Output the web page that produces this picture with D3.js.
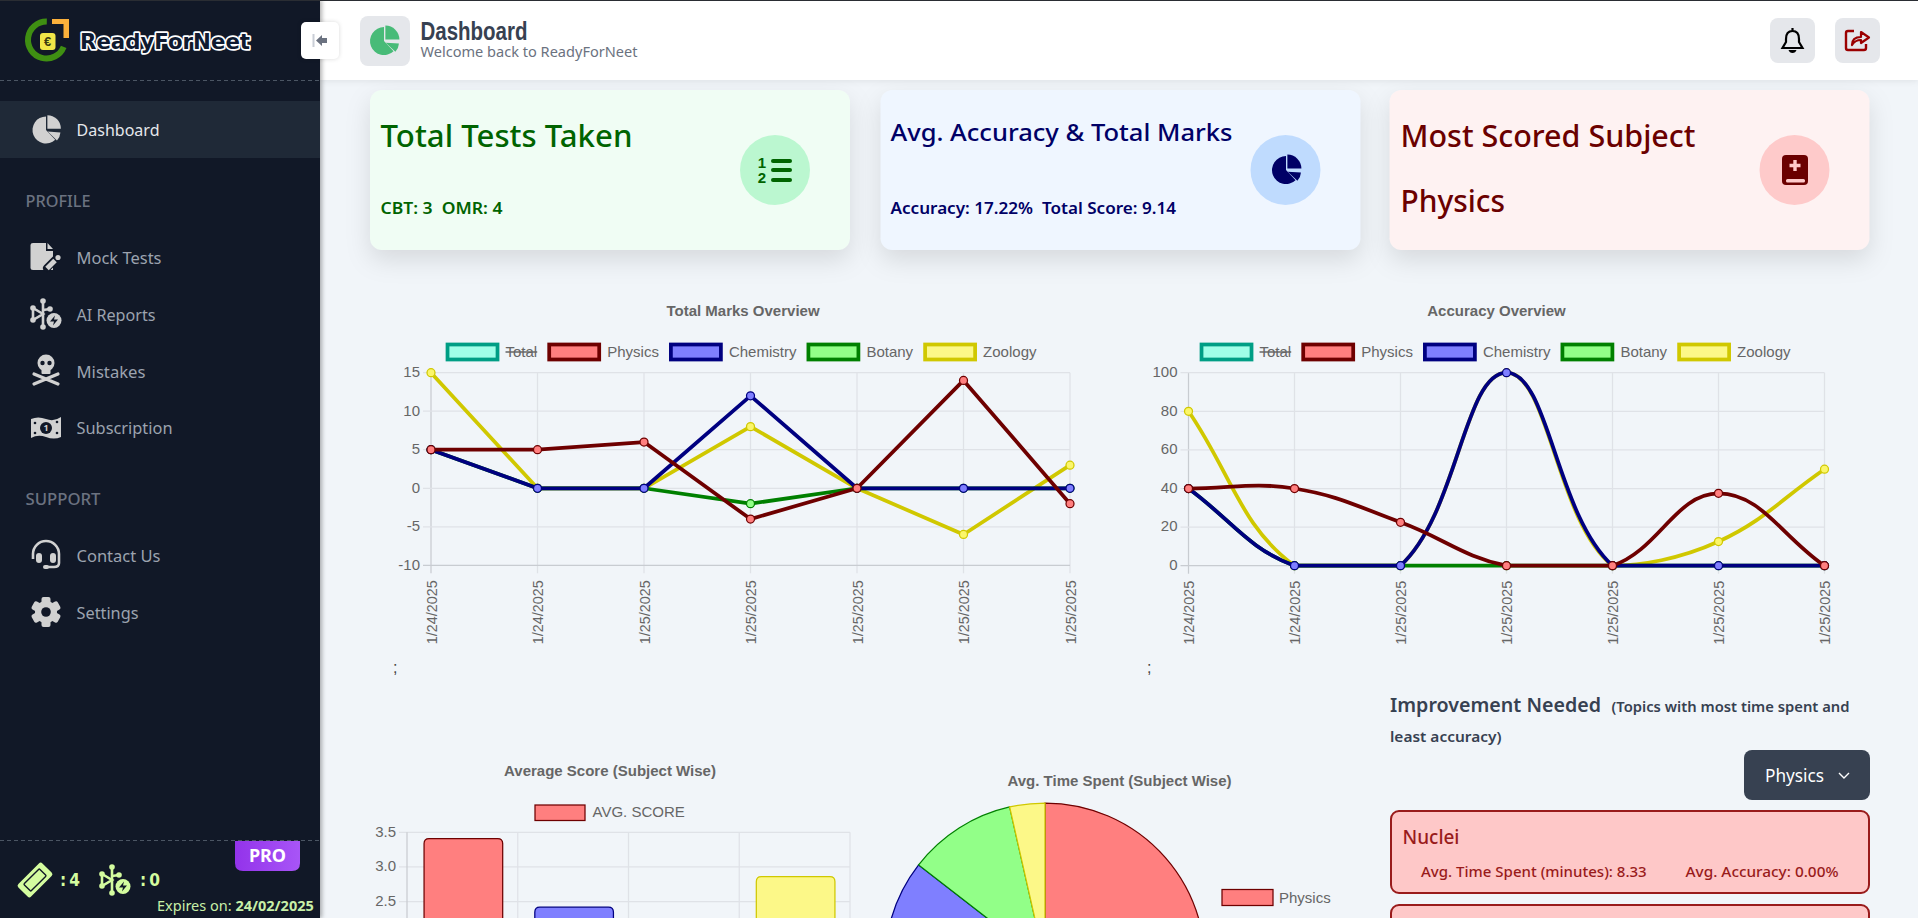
<!DOCTYPE html>
<html>
<head>
<meta charset="utf-8">
<title>Dashboard</title>
<script src="https://cdn.jsdelivr.net/npm/d3@7"></script>
<style>
  html, body { margin: 0; padding: 0; overflow: hidden; background: #f1f5f9; }
  svg { display: block; }
</style>
</head>
<body>
<script>
// ---- chart data ----
var dateLabels = ["1/24/2025", "1/24/2025", "1/25/2025", "1/25/2025", "1/25/2025", "1/25/2025", "1/25/2025"];
var legendNames = ["Total", "Physics", "Chemistry", "Botany", "Zoology"];
var subjects = ["Physics", "Chemistry", "Botany", "Zoology"];

var marksPhysics = [5, 5, 6, -4, 0, 14, -2];
var marksChemistry = [5, 0, 0, 12, 0, 0, 0];
var marksBotany = [5, 0, 0, -2, 0, 0, 0];
var marksZoology = [15, 0, 0, 8, 0, -6, 3];
var marksTicks = [-10, -5, 0, 5, 10, 15];

var accuracyPhysics = [40, 40, 22.5, 0, 0, 37.5, 0];
var accuracyChemistry = [40, 0, 0, 100, 0, 0, 0];
var accuracyBotany = [40, 0, 0, 0, 0, 0, 0];
var accuracyZoology = [80, 0, 0, 100, 0, 12.5, 50];
var accuracyTicks = [0, 20, 40, 60, 80, 100];

// the lower part of these two charts runs off the page
var avgScore = [3.41, 2.42, 0.43, 2.86];
var avgScoreTicks = [2.5, 3, 3.5];
var avgTime = [5.2, 3.0, 1.05, 0.34];
var pieLegendNames = ["Physics"];

var menuProfile = ["Mock Tests", "AI Reports", "Mistakes", "Subscription"];
var menuSupport = ["Contact Us", "Settings"];

// ---- look ----
var strokeOf = { Total: "#009e85", Physics: "#6e0000", Chemistry: "#000080", Botany: "#008000", Zoology: "#d0c800" };
var fillOf = { Total: "#a0ffe8", Physics: "#ff7f7f", Chemistry: "#7f7fff", Botany: "#92ff88", Zoology: "#fcf888" };
var chartFont = "'Liberation Sans', Arial, sans-serif";
var uiFont = "'Noto Sans', Lato, sans-serif";
var sideFont = "'Noto Sans', sans-serif";

var width = 1918, height = 918;

var svg = d3.select("body").append("svg")
    .attr("width", width)
    .attr("height", height);

svg.append("rect").attr("width", width).attr("height", height).attr("fill", "#f1f5f9");

function label(parent, x, y, str, size, color, opts) {
  opts = opts || {};
  var t = parent.append("text")
      .attr("x", x)
      .attr("y", y)
      .attr("dy", "0.35em")
      .attr("text-anchor", opts.anchor || "start")
      .style("font-family", opts.font || uiFont)
      .style("font-size", size + "px")
      .style("font-weight", opts.weight || 400)
      .attr("fill", color)
      .text(str);
  // the site font is not installed, so hold the text to the width it has there
  if (opts.fit) t.attr("textLength", opts.fit).attr("lengthAdjust", "spacingAndGlyphs");
  return t;
}

// ---- icons, all centred on 0,0 ----
function pieIcon(p, cx, cy, r, color) {
  var g = p.append("g").attr("transform", `translate(${cx},${cy})`);
  var arc = d3.arc();
  g.append("path").attr("fill", color)
    .attr("d", arc({ innerRadius: 0, outerRadius: r, startAngle: Math.PI * 0.76, endAngle: Math.PI * 2 }));
  g.append("path").attr("fill", color).attr("transform", `translate(${r * 0.1},${-r * 0.1})`)
    .attr("d", arc({ innerRadius: 0, outerRadius: r, startAngle: 0, endAngle: Math.PI * 0.5 }));
  g.append("path").attr("fill", color).attr("transform", `translate(${r * 0.12},${r * 0.12})`)
    .attr("d", arc({ innerRadius: 0, outerRadius: r * 0.95, startAngle: Math.PI * 0.52, endAngle: Math.PI * 0.74 }));
  return g;
}

function filePenIcon(p, cx, cy, color, bg) {
  var g = p.append("g").attr("transform", `translate(${cx},${cy})`);
  g.append("path").attr("fill", color).attr("d", "M-13,-14 H0 V-6 H7 V13 H-13 Q-15.5,13 -15.5,11 V-12 Q-15.5,-14 -13,-14 Z");
  g.append("path").attr("fill", color).attr("d", "M1.5,-14 L7,-8 H1.5 Z");
  g.append("path").attr("stroke", bg).attr("stroke-width", 8).attr("stroke-linecap", "round").attr("d", "M1,11 L12,0");
  g.append("path").attr("stroke", color).attr("stroke-width", 5).attr("d", "M1,11.5 L9,3.5");
  g.append("circle").attr("cx", 12).attr("cy", 0.5).attr("r", 2.6).attr("fill", color);
}

function aiIcon(p, cx, cy, color, bg) {
  var g = p.append("g").attr("transform", `translate(${cx},${cy})`);
  g.selectAll("path.wire").data(["M-3,-13 V13", "M-13,-6 L-3,0 L-13,6 Z", "M-3,-4 L4,-5"])
    .enter().append("path").attr("class", "wire").attr("fill", "none").attr("stroke", color).attr("stroke-width", 2.6).attr("d", d => d);
  [[-3, -13], [-3, 13], [-13, -6], [-13, 6], [4, -5]].forEach(function(c) {
    g.append("circle").attr("cx", c[0]).attr("cy", c[1]).attr("r", 2.8).attr("fill", color);
  });
  g.append("circle").attr("cx", 8).attr("cy", 6.5).attr("r", 7.5).attr("fill", color);
  g.append("path").attr("fill", bg).attr("d", "M9,1.5 L4,7.5 H8 L7,11.5 L12,5.5 H8 Z");
  return g;
}

function skullIcon(p, cx, cy, color, bg) {
  var g = p.append("g").attr("transform", `translate(${cx},${cy})`);
  g.append("circle").attr("cy", -8).attr("r", 8.5).attr("fill", color);
  g.append("rect").attr("x", -4.5).attr("y", -3).attr("width", 9).attr("height", 6).attr("rx", 1).attr("fill", color);
  g.append("circle").attr("cx", -3.5).attr("cy", -8).attr("r", 2.2).attr("fill", bg);
  g.append("circle").attr("cx", 3.5).attr("cy", -8).attr("r", 2.2).attr("fill", bg);
  g.append("path").attr("stroke", color).attr("stroke-width", 3.2).attr("stroke-linecap", "round")
    .attr("d", "M-12,3 L12,13 M12,3 L-12,13");
}

function moneyIcon(p, cx, cy, color, bg) {
  var g = p.append("g").attr("transform", `translate(${cx},${cy})`);
  g.append("path").attr("fill", color).attr("d", "M-15,-9 Q-8,-12 0,-9 Q8,-6 15,-11 V9 Q8,12 0,9 Q-8,6 -15,10 Z");
  g.append("circle").attr("r", 6).attr("fill", bg);
  label(g, 0, 0, "1", 9, color, { anchor: "middle", weight: 700, font: sideFont });
  [[-11, -5], [11, -6], [-11, 5], [11, 5]].forEach(function(c) {
    g.append("circle").attr("cx", c[0]).attr("cy", c[1]).attr("r", 1.3).attr("fill", bg);
  });
}

function headsetIcon(p, cx, cy, color) {
  var g = p.append("g").attr("transform", `translate(${cx},${cy})`);
  g.append("path").attr("fill", "none").attr("stroke", color).attr("stroke-width", 2.6)
    .attr("d", "M-13,4 V-1 A13,13 0 0 1 13,-1 V8 Q13,12 8,12 H0");
  g.append("rect").attr("x", -10).attr("y", -2).attr("width", 6).attr("height", 10).attr("rx", 3).attr("fill", color);
  g.append("rect").attr("x", 4).attr("y", -2).attr("width", 6).attr("height", 10).attr("rx", 3).attr("fill", color);
  g.append("rect").attr("x", -3).attr("y", 10).attr("width", 6).attr("height", 4).attr("rx", 2).attr("fill", color);
}

function gearIcon(p, cx, cy, color, bg) {
  var g = p.append("g").attr("transform", `translate(${cx},${cy})`);
  d3.range(3).forEach(function(i) {
    g.append("rect").attr("x", -4.5).attr("y", -15).attr("width", 9).attr("height", 30).attr("rx", 2)
      .attr("fill", color).attr("transform", `rotate(${i * 60})`);
  });
  g.append("circle").attr("r", 11).attr("fill", color);
  g.append("circle").attr("r", 4.8).attr("fill", bg);
}

function ticketIcon(p, cx, cy, color, bg) {
  var g = p.append("g").attr("transform", `translate(${cx},${cy}) rotate(-45)`);
  g.append("rect").attr("x", -17).attr("y", -9).attr("width", 34).attr("height", 18).attr("rx", 2.5).attr("fill", color);
  g.append("rect").attr("x", -11).attr("y", -5).attr("width", 22).attr("height", 10).attr("rx", 1).attr("fill", color)
    .attr("stroke", bg).attr("stroke-width", 1.4);
}

// ---- main content cards ----
var cardLayer = svg.append("g");

function card(x, bg, circleBg) {
  cardLayer.append("rect")
      .attr("x", x).attr("y", 90).attr("width", 480).attr("height", 160).attr("rx", 12)
      .attr("fill", bg)
      .style("filter", "drop-shadow(0 10px 12px rgba(0,0,0,0.11))");
  cardLayer.append("circle").attr("cx", x + 405).attr("cy", 170).attr("r", 35).attr("fill", circleBg);
}
card(370, "#f0fdf4", "#bbf7d0");
card(880.5, "#eff6ff", "#bfdbfe");
card(1389.5, "#fef2f2", "#fecaca");

var greenInk = "#006400", navyInk = "#000066", redInk = "#6b0000";
label(cardLayer, 380.5, 136, "Total Tests Taken", 30, greenInk, { weight: 500, fit: 252 });
label(cardLayer, 380.5, 208, "CBT: 3\u00a0\u00a0OMR: 4", 16, greenInk, { weight: 600, fit: 122 });
label(cardLayer, 890.5, 133, "Avg. Accuracy & Total Marks", 24, navyInk, { weight: 500, fit: 342 });
label(cardLayer, 890.5, 208, "Accuracy: 17.22%\u00a0\u00a0Total Score: 9.14", 16, navyInk, { weight: 600, fit: 285.5 });
label(cardLayer, 1400.5, 136, "Most Scored Subject", 30, redInk, { weight: 500, fit: 295 });
label(cardLayer, 1400.5, 201, "Physics", 30, redInk, { weight: 500, fit: 104.5 });

// list icon
var listIcon = cardLayer.append("g").attr("transform", "translate(775,170)");
label(listIcon, -13, -7, "1", 15, greenInk, { anchor: "middle", weight: 900, font: chartFont });
label(listIcon, -13, 8, "2", 15, greenInk, { anchor: "middle", weight: 900, font: chartFont });
[-9, 0, 10].forEach(function(y) {
  listIcon.append("rect").attr("x", -4).attr("y", y - 2).attr("width", 21).attr("height", 4).attr("rx", 2).attr("fill", greenInk);
});
pieIcon(cardLayer, 1286, 170, 14, navyInk);
// book icon
var bookIcon = cardLayer.append("g").attr("transform", "translate(1795,170)");
bookIcon.append("rect").attr("x", -13).attr("y", -15).attr("width", 26).attr("height", 30).attr("rx", 4).attr("fill", redInk);
bookIcon.append("rect").attr("x", -9).attr("y", 9).attr("width", 19).attr("height", 3.5).attr("rx", 1.5).attr("fill", "#fecaca");
bookIcon.append("path").attr("fill", "none").attr("stroke", "#fecaca").attr("stroke-width", 3.4).attr("d", "M0,-10 V1 M-5.5,-4.5 H5.5");

// ---- line charts ----
function lineChart(o) {
  var g = svg.append("g");
  var x = d3.scalePoint().domain(d3.range(dateLabels.length)).range([o.left, o.right]);
  var y = d3.scaleLinear().domain(o.domain).range([o.bottom, o.top]);

  label(g, o.titleX, 310.5, o.title, 15, "#666", { anchor: "middle", weight: 700, font: chartFont });

  // legend is laid out from the measured text, chart.js style
  var legend = g.append("g");
  var cursor = 0;
  legendNames.forEach(function(name) {
    legend.append("rect").attr("x", cursor).attr("y", 344.5).attr("width", 50).attr("height", 15)
        .attr("fill", fillOf[name]).attr("stroke", strokeOf[name]).attr("stroke-width", 3.75);
    var t = label(legend, cursor + 58, 352, name, 15, "#666", { font: chartFont });
    var w = t.node().getComputedTextLength();
    if (name == "Total") {
      legend.append("line").attr("x1", cursor + 58).attr("x2", cursor + 58 + w)
          .attr("y1", 352).attr("y2", 352).attr("stroke", "#666").attr("stroke-width", 1.6);
    }
    cursor += 58 + w + 12;
  });
  legend.attr("transform", `translate(${o.legendX - (cursor - 12) / 2},0)`);

  // grid
  g.append("g").selectAll("line").data(d3.range(dateLabels.length)).enter().append("line")
      .attr("x1", d => x(d)).attr("x2", d => x(d)).attr("y1", o.top).attr("y2", o.bottom + 8)
      .attr("stroke", d => d == 0 ? "#c8ccd1" : "#dfe2e7").attr("stroke-width", 1.25);
  g.append("g").selectAll("line").data(o.ticks).enter().append("line")
      .attr("x1", o.left - 8).attr("x2", o.right).attr("y1", d => y(d)).attr("y2", d => y(d))
      .attr("stroke", d => d == o.domain[0] ? "#c8ccd1" : "#dfe2e7").attr("stroke-width", 1.25);

  // axes, only the labels are kept
  var axisY = g.append("g").attr("transform", `translate(${o.left - 11},-1)`)
      .call(d3.axisLeft(y).tickValues(o.ticks).tickFormat(d => String(d)).tickSize(0).tickPadding(0));
  axisY.select(".domain").remove();
  axisY.selectAll("text").style("font", `15px ${chartFont}`).attr("fill", "#666");

  var axisX = g.append("g").attr("transform", `translate(0,${o.bottom + 15})`)
      .call(d3.axisBottom(x).tickFormat(d => dateLabels[d]).tickSize(0).tickPadding(0));
  axisX.select(".domain").remove();
  axisX.selectAll("text")
      .style("font", `14.4px ${chartFont}`)
      .attr("fill", "#666")
      .attr("text-anchor", "end")
      .attr("dy", 0)
      .attr("y", 0)
      .attr("transform", "rotate(-90) translate(0,5)");

  // first dataset sits on top, so paint backwards
  var line = d3.line().x((d, i) => x(i)).y(d => y(d));
  subjects.slice().reverse().forEach(function(name, k) {
    var values = o.series[subjects.length - 1 - k];
    var d = o.tension ? chartSpline(values.map((v, i) => [x(i), y(v)]), o.tension, o) : line(values);
    g.append("path").attr("d", d).attr("fill", "none")
        .attr("stroke", strokeOf[name]).attr("stroke-width", 3.75).attr("stroke-linejoin", "round");
    g.append("g").selectAll("circle").data(values).enter().append("circle")
        .attr("cx", (v, i) => x(i)).attr("cy", v => y(v)).attr("r", 4)
        .attr("fill", fillOf[name] == "#fcf888" ? "#fbf66a" : fillOf[name])
        .attr("stroke", strokeOf[name]).attr("stroke-width", 1.25);
  });

  label(g, o.semiX, 667, ";", 16, "#444", { font: chartFont });
}

// same control points chart.js uses for a tensioned line
function chartSpline(pts, t, o) {
  var p = d3.path();
  var clampX = v => Math.max(o.left, Math.min(o.right, v));
  var clampY = v => Math.max(o.top, Math.min(o.bottom, v));
  var ctrl = pts.map(function(cur, i) {
    var prev = pts[i - 1] || cur, next = pts[i + 1] || cur;
    var d01 = Math.hypot(cur[0] - prev[0], cur[1] - prev[1]);
    var d12 = Math.hypot(next[0] - cur[0], next[1] - cur[1]);
    var s = d01 + d12 || 1;
    var fa = t * d01 / s, fb = t * d12 / s;
    return {
      inX: clampX(cur[0] - fa * (next[0] - prev[0])), inY: clampY(cur[1] - fa * (next[1] - prev[1])),
      outX: clampX(cur[0] + fb * (next[0] - prev[0])), outY: clampY(cur[1] + fb * (next[1] - prev[1]))
    };
  });
  p.moveTo(pts[0][0], pts[0][1]);
  for (var i = 1; i < pts.length; i++) {
    p.bezierCurveTo(ctrl[i - 1].outX, ctrl[i - 1].outY, ctrl[i].inX, ctrl[i].inY, pts[i][0], pts[i][1]);
  }
  return p.toString();
}

lineChart({
  id: 1, title: "Total Marks Overview", titleX: 743, legendX: 742, semiX: 393,
  left: 431, right: 1070, top: 372.7, bottom: 565.3,
  domain: [-10, 15], ticks: marksTicks, tension: 0,
  series: [marksPhysics, marksChemistry, marksBotany, marksZoology]
});
lineChart({
  id: 2, title: "Accuracy Overview", titleX: 1496.5, legendX: 1496, semiX: 1147,
  left: 1188.5, right: 1824.5, top: 372.7, bottom: 565.7,
  domain: [0, 100], ticks: accuracyTicks, tension: 0.4,
  series: [accuracyPhysics, accuracyChemistry, accuracyBotany, accuracyZoology]
});

// ---- bar chart ----
var barG = svg.append("g");
var barX = d3.scaleBand().domain(subjects).range([407, 850]);
var barY = d3.scaleLinear().domain([0, 3.5]).range([1075, 832.3]);

label(barG, 610, 771, "Average Score (Subject Wise)", 15, "#666", { anchor: "middle", weight: 700, font: chartFont });
barG.append("rect").attr("x", 535).attr("y", 805).attr("width", 50).attr("height", 15.5)
    .attr("fill", fillOf.Physics).attr("stroke", strokeOf.Physics).attr("stroke-width", 1.25);
label(barG, 592.5, 812, "AVG. SCORE", 15, "#666", { font: chartFont });

barG.append("g").selectAll("line").data(avgScoreTicks).enter().append("line")
    .attr("x1", 399).attr("x2", 850).attr("y1", d => barY(d)).attr("y2", d => barY(d))
    .attr("stroke", "#dfe2e7").attr("stroke-width", 1.25);
barG.append("g").selectAll("line").data(d3.range(subjects.length + 1)).enter().append("line")
    .attr("x1", d => 407 + d * barX.bandwidth()).attr("x2", d => 407 + d * barX.bandwidth())
    .attr("y1", 832.3).attr("y2", 1083)
    .attr("stroke", d => d == 0 ? "#c8ccd1" : "#dfe2e7").attr("stroke-width", 1.25);

var barAxis = barG.append("g").attr("transform", "translate(396,-1)")
    .call(d3.axisLeft(barY).tickValues(avgScoreTicks).tickFormat(d3.format(".1f")).tickSize(0).tickPadding(0));
barAxis.select(".domain").remove();
barAxis.selectAll("text").style("font", `15px ${chartFont}`).attr("fill", "#666");

function barPath(name, v) {
  var w = barX.bandwidth() * 0.71, x0 = barX(name) + (barX.bandwidth() - w) / 2 + 1, y0 = barY(v), r = 5;
  var p = d3.path();
  p.moveTo(x0, barY(0));
  p.lineTo(x0, y0 + r);
  p.quadraticCurveTo(x0, y0, x0 + r, y0);
  p.lineTo(x0 + w - r, y0);
  p.quadraticCurveTo(x0 + w, y0, x0 + w, y0 + r);
  p.lineTo(x0 + w, barY(0));
  return p.toString();
}
barG.append("g").selectAll("path").data(subjects).enter().append("path")
    .attr("d", (d, i) => barPath(d, avgScore[i]))
    .attr("fill", d => fillOf[d])
    .attr("stroke", d => strokeOf[d])
    .attr("stroke-width", 1.25);

// ---- pie chart ----
var pieG = svg.append("g");
label(pieG, 1119.5, 781, "Avg. Time Spent (Subject Wise)", 15, "#666", { anchor: "middle", weight: 700, font: chartFont });
var pieSlices = d3.pie().sort(null)(avgTime);
var pieArc = d3.arc().innerRadius(0).outerRadius(160);
pieG.append("g").attr("transform", "translate(1045,963)")
  .selectAll("path").data(pieSlices).enter().append("path")
    .attr("d", pieArc)
    .attr("fill", (d, i) => fillOf[subjects[i]])
    .attr("stroke", (d, i) => strokeOf[subjects[i]])
    .attr("stroke-width", 1.25);
var pieLegend = pieG.append("g").selectAll("g").data(pieLegendNames).enter().append("g")
    .attr("transform", (d, i) => `translate(1222,${889.5 + i * 30})`);
pieLegend.append("rect").attr("width", 51).attr("height", 16)
    .attr("fill", d => fillOf[d]).attr("stroke", d => strokeOf[d]).attr("stroke-width", 1.25);
pieLegend.append("text").attr("x", 57).attr("y", 8).attr("dy", "0.35em")
    .style("font", `15px ${chartFont}`).attr("fill", "#666").text(d => d);

// ---- improvement panel ----
var side = svg.append("g");
label(side, 1390, 705, "Improvement Needed", 20, "#374151", { weight: 600, fit: 211 });
label(side, 1611.5, 707, "(Topics with most time spent and", 14, "#374151", { weight: 600, fit: 238 });
label(side, 1390, 737, "least accuracy)", 14, "#374151", { weight: 600, fit: 111.4 });
side.append("rect").attr("x", 1744).attr("y", 750).attr("width", 126).attr("height", 50).attr("rx", 8).attr("fill", "#374151");
label(side, 1765, 776, "Physics", 18, "#fff", { fit: 59 });
side.append("path").attr("d", "M1839,773 L1844,778 L1849,773").attr("fill", "none").attr("stroke", "#fff").attr("stroke-width", 1.4);

side.append("rect").attr("x", 1391).attr("y", 811).attr("width", 478).attr("height", 82).attr("rx", 8)
    .attr("fill", "#fec8c8").attr("stroke", "#991b1b").attr("stroke-width", 2);
label(side, 1402.5, 837, "Nuclei", 20, "#991b1b", { weight: 500, fit: 57 });
label(side, 1421, 872, "Avg. Time Spent (minutes): 8.33", 14.5, "#991b1b", { weight: 500, fit: 225.7 });
label(side, 1685.5, 872, "Avg. Accuracy: 0.00%", 14.5, "#991b1b", { weight: 500, fit: 153 });
side.append("rect").attr("x", 1391).attr("y", 905).attr("width", 478).attr("height", 82).attr("rx", 8)
    .attr("fill", "#fec8c8").attr("stroke", "#991b1b").attr("stroke-width", 2);

// ---- header ----
var head = svg.append("g");
head.append("rect").attr("x", 320).attr("width", width - 320).attr("height", 80).attr("fill", "#fff")
    .style("filter", "drop-shadow(0 1px 3px rgba(0,0,0,0.08))");
head.append("rect").attr("width", width).attr("height", 1).attr("fill", "#2a2d33");
head.append("rect").attr("x", 360).attr("y", 16).attr("width", 50).attr("height", 50).attr("rx", 8).attr("fill", "#e5e7eb");
pieIcon(head, 384, 41, 14, "#48bb78");
label(head, 420.5, 31, "Dashboard", 26, "#374151", { weight: 700, font: chartFont, fit: 107 });
label(head, 420.5, 52, "Welcome back to ReadyForNeet", 14, "#6b7280", { font: sideFont, fit: 217 });

head.append("rect").attr("x", 1770).attr("y", 18).attr("width", 45).attr("height", 45).attr("rx", 8).attr("fill", "#e5e7eb");
head.append("rect").attr("x", 1835).attr("y", 18).attr("width", 45).attr("height", 45).attr("rx", 8).attr("fill", "#e5e7eb");
head.append("path").attr("fill", "none").attr("stroke", "#000").attr("stroke-width", 2.2)
    .attr("d", "M1792.5,31 Q1786,31 1786,39 V42 L1782.5,48 H1802.5 L1799,42 V39 Q1799,31 1792.5,31 M1792.5,28 V31");
head.append("path").attr("fill", "#000").attr("d", "M1788.5,50 H1796.5 Q1795.5,53 1792.5,53 Q1789.5,53 1788.5,50 Z");
head.append("path").attr("fill", "none").attr("stroke", "#9b0000").attr("stroke-width", 2.4)
    .attr("d", "M1854,31 H1848 Q1846,31 1846,33 V48 Q1846,50 1848,50 H1864 Q1866,50 1866,48 V44");
head.append("path").attr("fill", "none").attr("stroke", "#9b0000").attr("stroke-width", 2.2).attr("stroke-linejoin", "round")
    .attr("d", "M1852,45 Q1852,37 1861,37 V32 L1869,37.5 L1861,43 V40 Q1855,40 1852,45 Z");

// ---- sidebar ----
var bar = svg.append("g");
bar.append("rect").attr("width", 320).attr("height", height).attr("fill", "#111827")
    .style("filter", "drop-shadow(2px 0 2px rgba(0,0,0,0.3))");
bar.append("rect").attr("width", 320).attr("height", 1).attr("fill", "#2a2d33");
bar.append("line").attr("x1", 0).attr("x2", 320).attr("y1", 80.5).attr("y2", 80.5)
    .attr("stroke", "#4b5563").attr("stroke-dasharray", "4 3");
bar.append("line").attr("x1", 0).attr("x2", 320).attr("y1", 840.5).attr("y2", 840.5)
    .attr("stroke", "#4b5563").attr("stroke-dasharray", "4 3");

// logo
var logo = bar.append("g");
logo.append("path").attr("fill", "#3f8f12").attr("transform", "translate(46.5,40)")
    .attr("d", d3.arc()({ innerRadius: 15.5, outerRadius: 21.5, startAngle: 1.95, endAngle: 6.3 }));
logo.append("rect").attr("x", 40).attr("y", 33).attr("width", 15.5).attr("height", 17).attr("rx", 3).attr("fill", "#f1e648");
label(logo, 47.5, 41.5, "\u20ac", 13, "#3a3a10", { anchor: "middle", weight: 700, font: chartFont });
logo.append("path").attr("fill", "#fbb03b").attr("d", "M52,19 H69 V38 H63.5 V24 H52 Z");
["#fff", "#0f1a30"].forEach(function(c, i) {
  var t = label(logo, 80, 41, "ReadyForNeet", 22, c, { weight: 700, font: "'DejaVu Sans', sans-serif", fit: 170 });
  if (i == 0) t.attr("stroke", c).attr("stroke-width", 3.4).attr("stroke-linejoin", "round");
});

bar.append("rect").attr("y", 101).attr("width", 320).attr("height", 57).attr("fill", "#1f2937");
var iconGrey = "#d1d1d1", menuGrey = "#9ca3af", barBg = "#111827";
pieIcon(bar, 46, 130, 13.5, iconGrey);
label(bar, 76.5, 130, "Dashboard", 16.5, "#e5e7eb", { font: sideFont, fit: 83 });
label(bar, 25.5, 201.5, "PROFILE", 16, "#6b7280", { font: sideFont, weight: 500, fit: 65 });

var profileRow = [258, 315, 372, 428];
var profileWidth = [85, 79, 69, 96];
menuProfile.forEach(function(name, i) {
  label(bar, 76.5, profileRow[i], name, 16.5, menuGrey, { font: sideFont, fit: profileWidth[i] });
});
filePenIcon(bar, 46, 257, iconGrey, barBg);
aiIcon(bar, 46, 314, iconGrey, barBg);
skullIcon(bar, 46, 371, iconGrey, barBg);
moneyIcon(bar, 46, 428, iconGrey, barBg);

label(bar, 25.5, 499, "SUPPORT", 16, "#6b7280", { font: sideFont, weight: 500, fit: 75 });
var supportRow = [556, 613];
var supportWidth = [84, 62];
menuSupport.forEach(function(name, i) {
  label(bar, 76.5, supportRow[i], name, 16.5, menuGrey, { font: sideFont, fit: supportWidth[i] });
});
headsetIcon(bar, 46, 555, iconGrey);
gearIcon(bar, 46, 612, iconGrey, barBg);

// bottom strip
var lime = "#d4fc9f";
ticketIcon(bar, 35, 880, lime, barBg);
label(bar, 60, 880, ":\u20094", 17, lime, { weight: 700, font: "'DejaVu Sans', sans-serif", fit: 20 });
aiIcon(bar, 115, 880, lime, barBg);
label(bar, 140, 880, ":\u20090", 17, lime, { weight: 700, font: "'DejaVu Sans', sans-serif", fit: 20 });

var proGrad = svg.append("defs").append("linearGradient").attr("id", "proGrad");
proGrad.append("stop").attr("offset", 0).attr("stop-color", "#9333ea");
proGrad.append("stop").attr("offset", 1).attr("stop-color", "#a855f7");
bar.append("path").attr("fill", "url(#proGrad)")
    .attr("d", "M235,841 H300 V863 Q300,871 292,871 H243 Q235,871 235,863 Z");
label(bar, 267.5, 855.5, "PRO", 18, "#fff", { anchor: "middle", weight: 700, font: sideFont });
var exp = label(bar, 157, 906, "Expires on: ", 14.5, "#c8f0a8", { font: sideFont });
exp.append("tspan").style("font-weight", 700).text("24/02/2025");

// collapse button
var btn = svg.append("g");
btn.append("rect").attr("x", 301).attr("y", 22).attr("width", 38).attr("height", 37).attr("rx", 5).attr("fill", "#fff")
    .style("filter", "drop-shadow(0 0 2px rgba(0,0,0,0.15))");
btn.append("rect").attr("x", 312.5).attr("y", 34).attr("width", 2).attr("height", 13).attr("fill", "#c9ced6");
btn.append("path").attr("fill", "#6b7280").attr("d", "M316,40.5 L322,35 V38 H327 V43 H322 V46 Z");
</script>
</body>
</html>
